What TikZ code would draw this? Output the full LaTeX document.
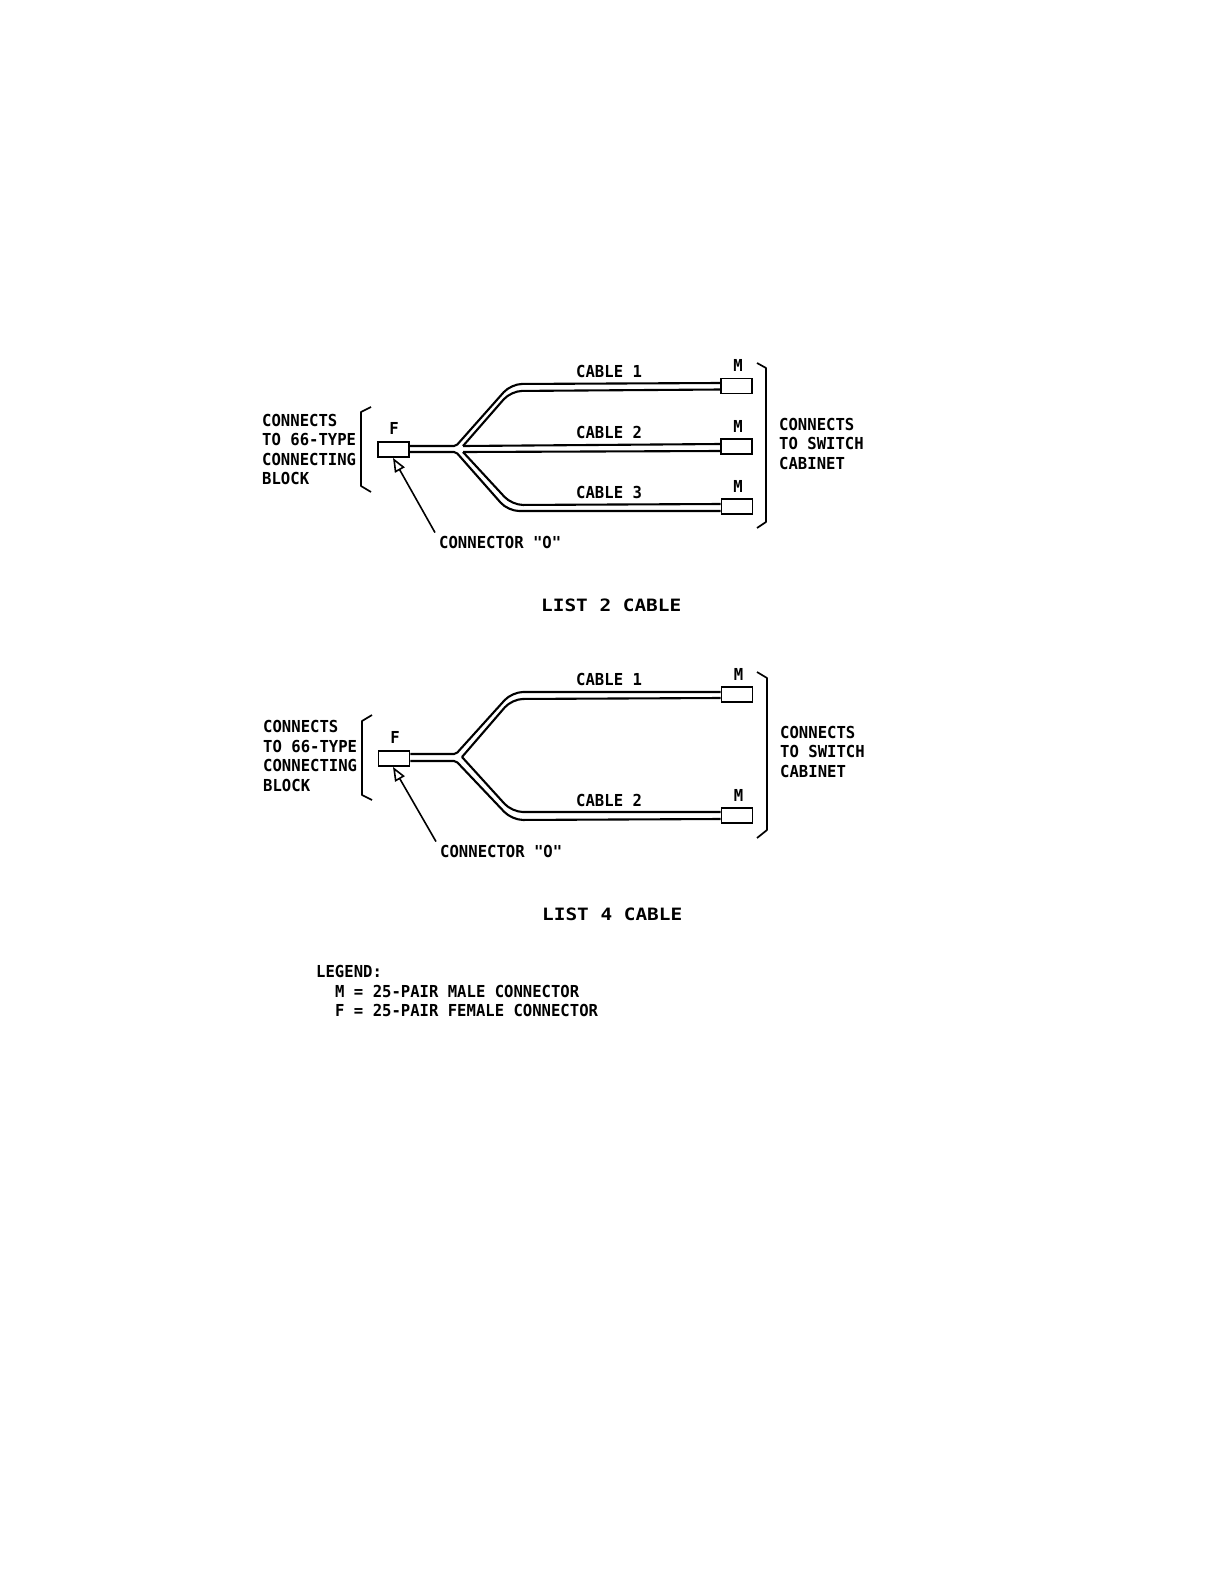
\documentclass[tikz,border=0pt]{standalone}
\usepackage{fontspec}
\newfontfamily\lettering[FakeStretch=0.945]{DejaVu Sans Mono}
\newfontfamily\heading[FakeStretch=1.14]{DejaVu Sans Mono}
\usetikzlibrary{arrows.meta,positioning,calc}
\begin{document}
\begin{tikzpicture}[
  x=1pt, y=-1pt,
  lbl/.style={inner sep=0pt,align=left,anchor=base west,font=\lettering\bfseries\fontsize{16.5}{19.5}\selectfont},
  pin/.style={inner sep=0pt,anchor=center,font=\lettering\bfseries\fontsize{16.5}{19.5}\selectfont},
  ttl/.style={inner sep=0pt,anchor=base west,font=\heading\bfseries\fontsize{17}{20}\selectfont},
  conn/.style={draw,line width=1.8pt,fill=white,inner sep=0pt,minimum width=31pt,minimum height=15pt},
  wire/.style={line width=2.1pt},
  brack/.style={line width=1.7pt,line join=round},
  lead/.style={line width=1.6pt,-{Triangle[open,length=14pt,width=11pt,line width=1.6pt]}}]
\useasboundingbox (0,0) rectangle (1224,1582);
% list 2 cable
\node[conn] (fA) at (393.5,449.5) {};
\node[conn] (mA1) at (736.5,386) {};
\node[conn] (mA2) at (736.5,446.5) {};
\node[conn] (mA3) at (737,506.5) {};
\coordinate (tipA) at (456,446);
\coordinate (botA) at (456,452);
\coordinate (apA) at (463,446);
\coordinate (apB) at (463,452);
\draw[wire,rounded corners=2pt] ([yshift=3.5pt]fA.east) -- (tipA) [rounded corners=11pt] -- (511,384) -- ([yshift=3pt]mA1.west);
\draw[wire,rounded corners=11pt] (apA) -- (511,391) -- ([yshift=-3.5pt]mA1.west);
\draw[wire] (apA) -- ([yshift=2.5pt]mA2.west);
\draw[wire] (apB) -- ([yshift=-4.5pt]mA2.west);
\draw[wire,rounded corners=11pt] (apB) -- (512,505) -- ([yshift=2.5pt]mA3.west);
\draw[wire,rounded corners=2pt] ([yshift=-2.5pt]fA.east) -- (botA) [rounded corners=11pt] -- (508,511) -- ([yshift=-4.5pt]mA3.west);
\node[pin] (pfA) at (394,428) {F};
\node[pin] (pA1) at (738,365) {M};
\node[pin] (pA2) at (738,426) {M};
\node[pin] (pA3) at (738,486) {M};
\node[lbl] (c1A) at (576,377) {CABLE 1};
\node[lbl] (c2A) at (576,438) {CABLE 2};
\node[lbl] (c3A) at (576,498) {CABLE 3};
\node[lbl] (blkA) at (262,484.5) {CONNECTS\\TO 66-TYPE\\CONNECTING\\BLOCK};
\node[lbl] (swA) at (779,469) {CONNECTS\\TO SWITCH\\CABINET};
\node[lbl] (coA) at (439,548) {CONNECTOR "O"};
\node[ttl] (tA) at (541,611) {LIST 2 CABLE};
\coordinate (lfA1) at (371,407);
\coordinate (lfA2) at (371,492);
\coordinate (rtA1) at (757,363);
\coordinate (rtA2) at (757,528);
\draw[brack] (lfA1) -- (361,412) -- (361,486) -- (lfA2);
\draw[brack] (rtA1) -- (766,368) -- (766,522) -- (rtA2);
\draw[lead] (coA.north west) ++(-4,-3) -- ([xshift=-0.5pt]fA.south);
% list 4 cable
\node[conn] (fB) at (394,758.5) {};
\node[conn] (mB1) at (737,694.5) {};
\node[conn] (mB2) at (737,815.5) {};
\coordinate (tipB) at (456,754);
\coordinate (botB) at (456,761);
\coordinate (apC) at (462,757);
\draw[wire,rounded corners=2pt] ([yshift=4.5pt]fB.east) -- (tipB) [rounded corners=11pt] -- (512,692) -- ([yshift=2.5pt]mB1.west);
\draw[wire,rounded corners=11pt] (apC) -- (512,699) -- ([yshift=-3.5pt]mB1.west);
\draw[wire,rounded corners=11pt] (apC) -- (512,812) -- ([yshift=3.5pt]mB2.west);
\draw[wire,rounded corners=2pt] ([yshift=-2.5pt]fB.east) -- (botB) [rounded corners=11pt] -- (512,820) -- ([yshift=-3.5pt]mB2.west);
\node[pin] (pfB) at (395,737) {F};
\node[pin] (pB1) at (738.5,674) {M};
\node[pin] (pB2) at (738.5,795) {M};
\node[lbl] (c1B) at (576,685) {CABLE 1};
\node[lbl] (c2B) at (576,806) {CABLE 2};
\node[lbl] (blkB) at (263,791) {CONNECTS\\TO 66-TYPE\\CONNECTING\\BLOCK};
\node[lbl] (swB) at (780,777) {CONNECTS\\TO SWITCH\\CABINET};
\node[lbl] (coB) at (440,857) {CONNECTOR "O"};
\node[ttl] (tB) at (542,920) {LIST 4 CABLE};
\coordinate (lfB1) at (372,715);
\coordinate (lfB2) at (372,800);
\coordinate (rtB1) at (757,672);
\coordinate (rtB2) at (757,838);
\draw[brack] (lfB1) -- (362,721) -- (362,795) -- (lfB2);
\draw[brack] (rtB1) -- (767,678) -- (767,830) -- (rtB2);
\draw[lead] (coB.north west) ++(-4,-3) -- ([xshift=-1pt]fB.south);
% legend
\node[lbl] (leg) at (316,977) {LEGEND:};
\node[lbl] (legM) at (335,997) {M = 25-PAIR MALE CONNECTOR};
\node[lbl] (legF) at (335,1016) {F = 25-PAIR FEMALE CONNECTOR};
\end{tikzpicture}
\end{document}
